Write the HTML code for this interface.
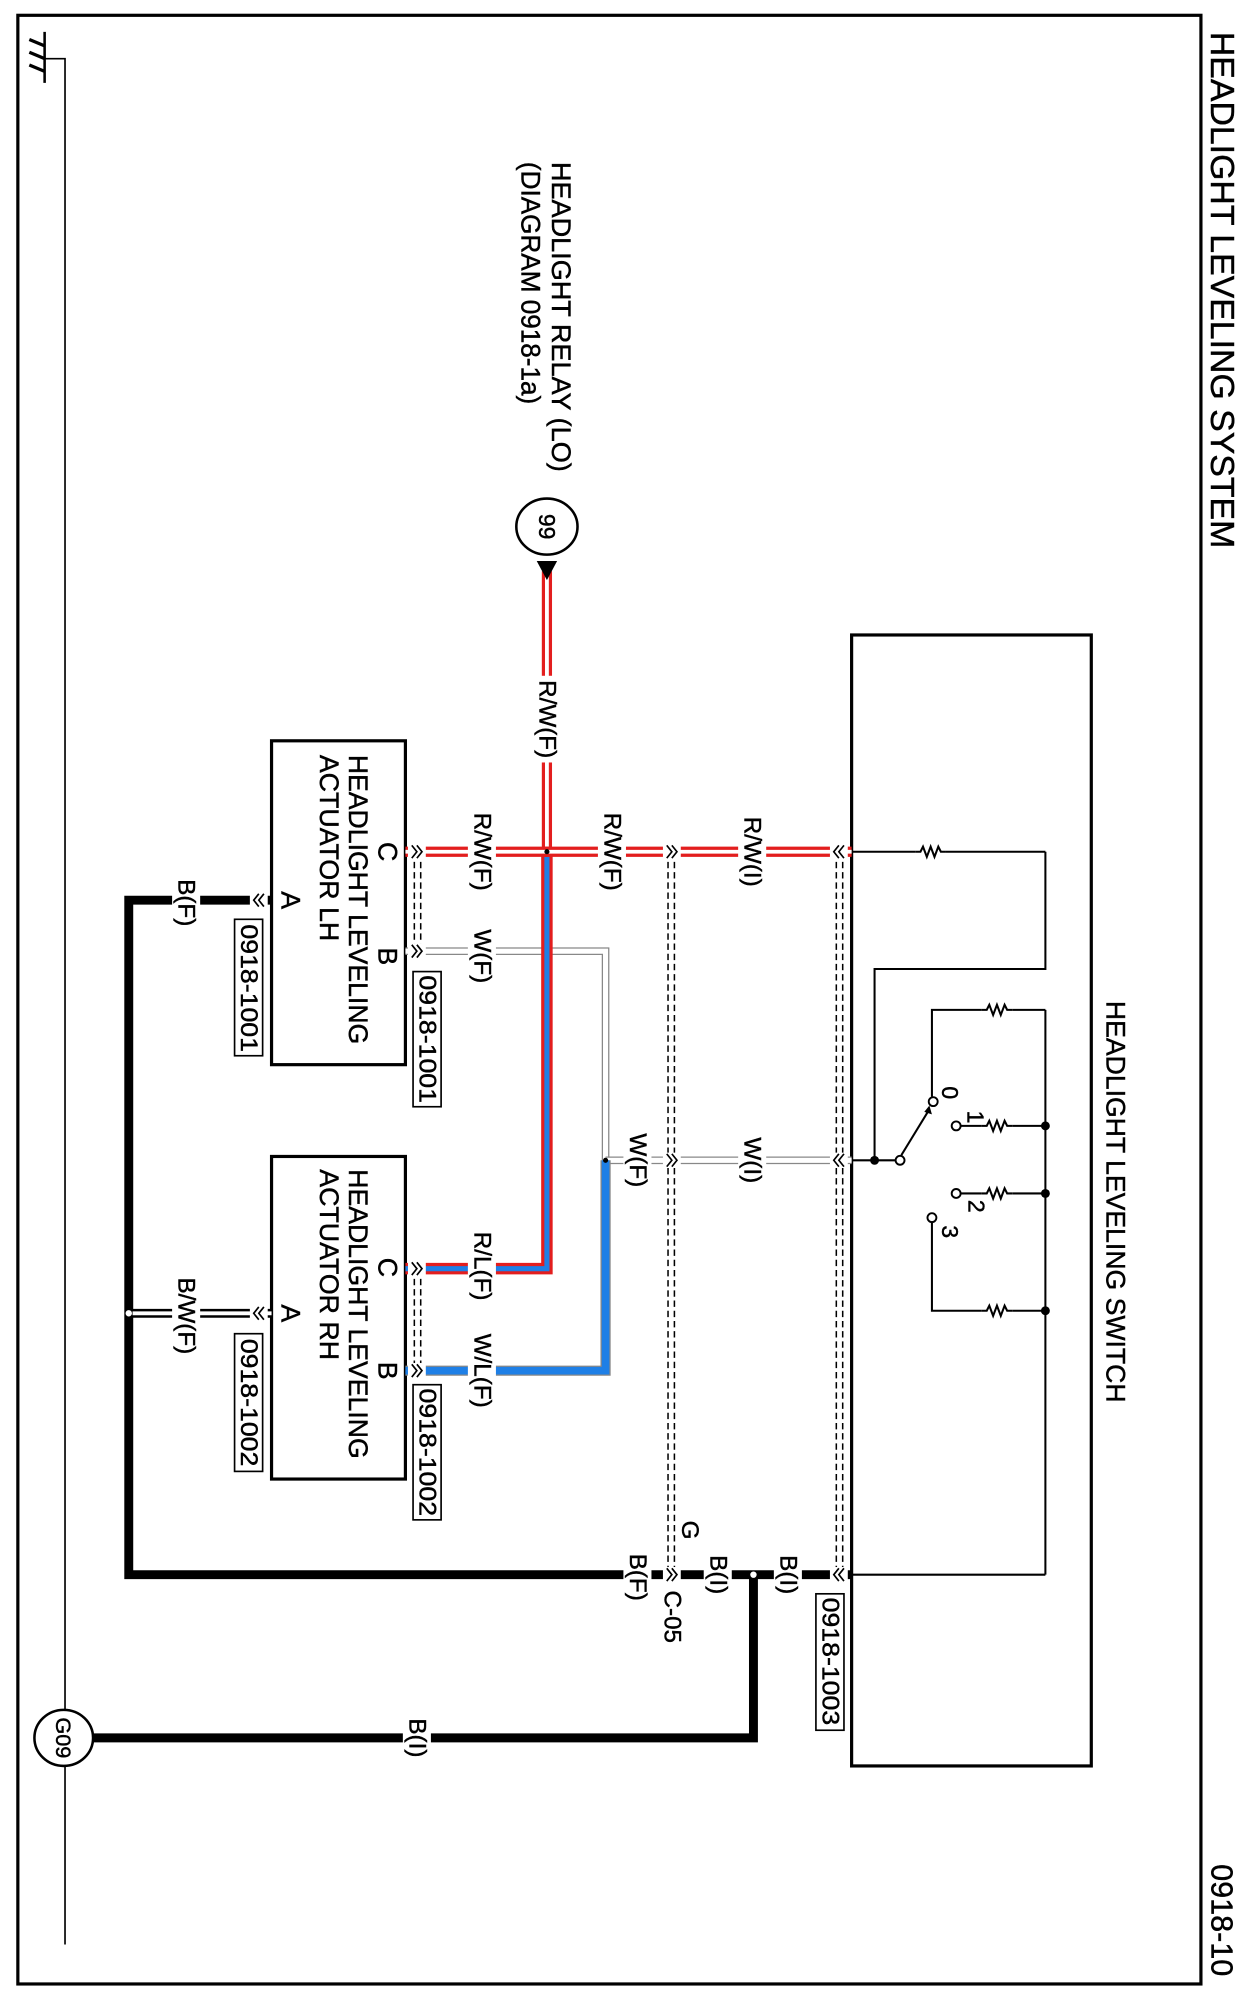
<!DOCTYPE html>
<html><head><meta charset="utf-8"><style>
html,body{margin:0;padding:0;background:#fff;}
svg{display:block;}
text{font-family:"Liberation Sans",sans-serif;fill:#000;stroke:#000;stroke-width:0.35;}
</style></head><body>
<svg width="1243" height="1998" viewBox="0 0 975 1567" preserveAspectRatio="none" xmlns="http://www.w3.org/2000/svg">
<defs>
<g id="rz"><polyline points="-12,0 -8,0 -6,-4 -3,4 0,-4 3,4 6,-4 8,0 12,0" fill="none" stroke="#000" stroke-width="1.6"/></g>
<g id="chR"><polyline points="-4,-5 0,0 -4,5" fill="none" stroke="#000" stroke-width="1.3"/><polyline points="0,-5 4,0 0,5" fill="none" stroke="#000" stroke-width="1.3"/></g>
<g id="chL"><polyline points="4,-5 0,0 4,5" fill="none" stroke="#000" stroke-width="1.3"/><polyline points="0,-5 -4,0 0,5" fill="none" stroke="#000" stroke-width="1.3"/></g>
</defs>
<rect x="14" y="12" width="928" height="1544" fill="none" stroke="#000" stroke-width="2.5"/>
<text transform="translate(958,25) rotate(90)" font-size="26" dominant-baseline="central" textLength="405" lengthAdjust="spacingAndGlyphs">HEADLIGHT LEVELING SYSTEM</text>
<text transform="translate(958,1550) rotate(90)" font-size="24" dominant-baseline="central" text-anchor="end">0918-10</text>

<polyline points="35,46 51,46 51,1525" fill="none" stroke="#000" stroke-width="1.3"/>
<line x1="35" y1="25" x2="35" y2="65" stroke="#000" stroke-width="2"/>
<line x1="23" y1="31" x2="35" y2="36" stroke="#000" stroke-width="2.5"/>
<line x1="23" y1="41" x2="35" y2="46" stroke="#000" stroke-width="2.5"/>
<line x1="23" y1="51" x2="35" y2="56" stroke="#000" stroke-width="2.5"/>

<rect x="668" y="498" width="188" height="887" fill="none" stroke="#000" stroke-width="2.5"/>
<text transform="translate(875,785) rotate(90)" font-size="21" dominant-baseline="central" textLength="315" lengthAdjust="spacingAndGlyphs">HEADLIGHT LEVELING SWITCH</text>
<g stroke="#000" stroke-width="1.6" fill="none">
<line x1="668" y1="668" x2="718" y2="668"/><line x1="742" y1="668" x2="820" y2="668"/>
<polyline points="820,668 820,760 686,760 686,910"/>
<line x1="668" y1="910" x2="702" y2="910"/>
<line x1="707" y1="906" x2="729" y2="870"/>
<polyline points="731,860 731,792 770,792"/><line x1="794" y1="792" x2="820" y2="792"/>
<line x1="753" y1="883" x2="770" y2="883"/><line x1="794" y1="883" x2="820" y2="883"/>
<line x1="753" y1="936" x2="770" y2="936"/><line x1="794" y1="936" x2="820" y2="936"/>
<polyline points="731,958 731,1028 770,1028"/><line x1="794" y1="1028" x2="820" y2="1028"/>
<line x1="820" y1="792" x2="820" y2="1235"/>
<line x1="668" y1="1235" x2="820" y2="1235"/>
</g>
<use href="#rz" x="730" y="668"/><use href="#rz" x="782" y="792"/><use href="#rz" x="782" y="883"/><use href="#rz" x="782" y="936"/><use href="#rz" x="782" y="1028"/>
<polygon points="729,867 731,874 725,872" fill="#000"/>
<g fill="#fff" stroke="#000" stroke-width="1.5">
<circle cx="706" cy="910" r="3.5"/><circle cx="732" cy="864" r="3.5"/><circle cx="750" cy="883" r="3.5"/><circle cx="750" cy="936" r="3.5"/><circle cx="731" cy="955" r="3.5"/>
</g>
<g fill="#000"><circle cx="686" cy="910" r="3.5"/><circle cx="820" cy="883" r="3.5"/><circle cx="820" cy="936" r="3.5"/><circle cx="820" cy="1028" r="3.5"/></g>
<g font-size="18">
<text transform="translate(745,857) rotate(90)" text-anchor="middle" dominant-baseline="central">0</text>
<text transform="translate(765,876) rotate(90)" text-anchor="middle" dominant-baseline="central">1</text>
<text transform="translate(766,946) rotate(90)" text-anchor="middle" dominant-baseline="central">2</text>
<text transform="translate(745,966) rotate(90)" text-anchor="middle" dominant-baseline="central">3</text>
</g>

<rect x="213" y="581" width="105" height="254" fill="none" stroke="#000" stroke-width="2.5"/>
<rect x="213" y="907" width="105" height="253" fill="none" stroke="#000" stroke-width="2.5"/>
<g font-size="21">
<text transform="translate(281,592) rotate(90)" dominant-baseline="central" textLength="227" lengthAdjust="spacingAndGlyphs">HEADLIGHT LEVELING</text>
<text transform="translate(258,592) rotate(90)" dominant-baseline="central">ACTUATOR LH</text>
<text transform="translate(281,917) rotate(90)" dominant-baseline="central" textLength="227" lengthAdjust="spacingAndGlyphs">HEADLIGHT LEVELING</text>
<text transform="translate(258,917) rotate(90)" dominant-baseline="central">ACTUATOR RH</text>
<text transform="translate(304,668) rotate(90)" text-anchor="middle" dominant-baseline="central">C</text>
<text transform="translate(304,750) rotate(90)" text-anchor="middle" dominant-baseline="central">B</text>
<text transform="translate(228,706) rotate(90)" text-anchor="middle" dominant-baseline="central">A</text>
<text transform="translate(304,994) rotate(90)" text-anchor="middle" dominant-baseline="central">C</text>
<text transform="translate(304,1075) rotate(90)" text-anchor="middle" dominant-baseline="central">B</text>
<text transform="translate(228,1030) rotate(90)" text-anchor="middle" dominant-baseline="central">A</text>
</g>

<g stroke="#000" stroke-width="1.2" stroke-dasharray="5,3" fill="none">
<line x1="325" y1="668" x2="325" y2="746"/><line x1="330" y1="668" x2="330" y2="746"/>
<line x1="325" y1="995" x2="325" y2="1075"/><line x1="330" y1="995" x2="330" y2="1075"/>
<line x1="524" y1="668" x2="524" y2="1235"/><line x1="529" y1="668" x2="529" y2="1235"/>
<line x1="656" y1="668" x2="656" y2="1235"/><line x1="661" y1="668" x2="661" y2="1235"/>
</g>

<g stroke="#000" stroke-width="7" fill="none">
<polyline points="213,706 101,706 101,1235 668,1235"/>
<polyline points="591,1235 591,1363 72,1363"/>
</g>
<line x1="101" y1="1030" x2="213" y2="1030" stroke="#000" stroke-width="7"/>
<line x1="104" y1="1030" x2="213" y2="1030" stroke="#fff" stroke-width="3"/>
<circle cx="101" cy="1030" r="2.5" fill="#fff"/>
<circle cx="591" cy="1235" r="2.5" fill="#fff"/>

<polyline points="318,746 475,746 475,910" fill="none" stroke="#888" stroke-width="6"/>
<polyline points="318,746 475,746 475,910" fill="none" stroke="#fff" stroke-width="4"/>
<line x1="475" y1="910" x2="668" y2="910" stroke="#888" stroke-width="6"/>
<line x1="475" y1="910" x2="668" y2="910" stroke="#fff" stroke-width="4"/>
<polyline points="475,910 475,1075 318,1075" fill="none" stroke="#888" stroke-width="8"/>
<polyline points="475,910 475,1075 318,1075" fill="none" stroke="#1e7fe6" stroke-width="6"/>
<circle cx="475" cy="910" r="2" fill="#000"/>

<polyline points="429,668 429,995 318,995" fill="none" stroke="#e31e1e" stroke-width="9"/>
<polyline points="429,672 429,995 318,995" fill="none" stroke="#1e7fe6" stroke-width="4"/>
<line x1="429" y1="448" x2="429" y2="668" stroke="#e31e1e" stroke-width="8"/>
<line x1="429" y1="448" x2="429" y2="664" stroke="#fff" stroke-width="3"/>
<line x1="318" y1="668" x2="668" y2="668" stroke="#e31e1e" stroke-width="8"/>
<line x1="318" y1="668" x2="668" y2="668" stroke="#fff" stroke-width="3"/>
<circle cx="429" cy="668" r="2" fill="#000"/>

<polygon points="421,440 437,440 429,455" fill="#000"/>
<ellipse cx="429" cy="413" rx="24" ry="22" fill="#fff" stroke="#000" stroke-width="2"/>
<text transform="translate(429,413) rotate(90)" font-size="18" text-anchor="middle" dominant-baseline="central">99</text>
<text transform="translate(440,127) rotate(90)" font-size="21" dominant-baseline="central" textLength="243" lengthAdjust="spacingAndGlyphs">HEADLIGHT RELAY (LO)</text>
<text transform="translate(416,127) rotate(90)" font-size="21" dominant-baseline="central" textLength="190" lengthAdjust="spacingAndGlyphs">(DIAGRAM 0918-1a)</text>

<ellipse cx="50" cy="1363" rx="23" ry="22" fill="#fff" stroke="#000" stroke-width="2"/>
<text transform="translate(50,1363) rotate(90)" font-size="17" text-anchor="middle" dominant-baseline="central">G09</text>

<g fill="#fff">
<rect x="320" y="662" width="14" height="12"/><rect x="320" y="740" width="14" height="12"/>
<rect x="320" y="989" width="14" height="12"/><rect x="320" y="1069" width="14" height="12"/>
<rect x="520" y="662" width="14" height="12"/><rect x="520" y="904" width="14" height="12"/>
<rect x="651" y="662" width="14" height="12"/><rect x="651" y="904" width="14" height="12"/>
<rect x="196" y="700" width="14" height="12"/><rect x="196" y="1024" width="14" height="12"/>
<rect x="520" y="1229" width="14" height="12"/><rect x="651" y="1229" width="14" height="12"/>
</g>
<use href="#chR" x="327" y="668"/><use href="#chR" x="327" y="746"/><use href="#chR" x="327" y="995"/><use href="#chR" x="327" y="1075"/>
<use href="#chR" x="527" y="668"/><use href="#chR" x="527" y="910"/><use href="#chR" x="527" y="1235"/>
<use href="#chL" x="658" y="668"/><use href="#chL" x="658" y="910"/><use href="#chL" x="658" y="1235"/>
<use href="#chL" x="203" y="706"/><use href="#chL" x="203" y="1030"/>

<g fill="#fff" stroke="#000" stroke-width="1.3">
<rect x="324" y="762" width="22" height="106"/><rect x="184" y="721" width="22" height="107"/>
<rect x="324" y="1086" width="22" height="106"/><rect x="184" y="1046" width="22" height="108"/>
<rect x="640" y="1250" width="22" height="107"/>
</g>
<g font-size="19">
<text transform="translate(335,815) rotate(90)" text-anchor="middle" dominant-baseline="central" textLength="100" lengthAdjust="spacingAndGlyphs">0918-1001</text>
<text transform="translate(195,775) rotate(90)" text-anchor="middle" dominant-baseline="central" textLength="100" lengthAdjust="spacingAndGlyphs">0918-1001</text>
<text transform="translate(335,1139) rotate(90)" text-anchor="middle" dominant-baseline="central" textLength="100" lengthAdjust="spacingAndGlyphs">0918-1002</text>
<text transform="translate(195,1100) rotate(90)" text-anchor="middle" dominant-baseline="central" textLength="100" lengthAdjust="spacingAndGlyphs">0918-1002</text>
<text transform="translate(651,1303) rotate(90)" text-anchor="middle" dominant-baseline="central" textLength="100" lengthAdjust="spacingAndGlyphs">0918-1003</text>
</g>

<g fill="#fff">
<rect x="418" y="530" width="22" height="68"/>
<rect x="367" y="634" width="22" height="68"/><rect x="469" y="634" width="22" height="68"/><rect x="579" y="634" width="22" height="68"/>
<rect x="367" y="725" width="22" height="50"/>
<rect x="489" y="885" width="22" height="50"/><rect x="579" y="887" width="22" height="46"/>
<rect x="367" y="961" width="22" height="64"/><rect x="367" y="1042" width="22" height="66"/>
<rect x="135" y="684" width="22" height="48"/><rect x="135" y="998" width="22" height="68"/>
<rect x="489" y="1213" width="22" height="48"/><rect x="552" y="1213" width="22" height="44"/><rect x="607" y="1213" width="22" height="44"/>
<rect x="316" y="1341" width="22" height="44"/>
</g>
<g font-size="19">
<text transform="translate(429,564) rotate(90)" text-anchor="middle" dominant-baseline="central">R/W(F)</text>
<text transform="translate(378,668) rotate(90)" text-anchor="middle" dominant-baseline="central">R/W(F)</text>
<text transform="translate(480,668) rotate(90)" text-anchor="middle" dominant-baseline="central">R/W(F)</text>
<text transform="translate(590,668) rotate(90)" text-anchor="middle" dominant-baseline="central">R/W(I)</text>
<text transform="translate(378,750) rotate(90)" text-anchor="middle" dominant-baseline="central">W(F)</text>
<text transform="translate(500,910) rotate(90)" text-anchor="middle" dominant-baseline="central">W(F)</text>
<text transform="translate(590,910) rotate(90)" text-anchor="middle" dominant-baseline="central">W(I)</text>
<text transform="translate(378,993) rotate(90)" text-anchor="middle" dominant-baseline="central">R/L(F)</text>
<text transform="translate(378,1075) rotate(90)" text-anchor="middle" dominant-baseline="central">W/L(F)</text>
<text transform="translate(146,708) rotate(90)" text-anchor="middle" dominant-baseline="central">B(F)</text>
<text transform="translate(146,1032) rotate(90)" text-anchor="middle" dominant-baseline="central">B/W(F)</text>
<text transform="translate(500,1237) rotate(90)" text-anchor="middle" dominant-baseline="central">B(F)</text>
<text transform="translate(563,1235) rotate(90)" text-anchor="middle" dominant-baseline="central">B(I)</text>
<text transform="translate(618,1235) rotate(90)" text-anchor="middle" dominant-baseline="central">B(I)</text>
<text transform="translate(327,1363) rotate(90)" text-anchor="middle" dominant-baseline="central">B(I)</text>
<text transform="translate(527,1268) rotate(90)" text-anchor="middle" dominant-baseline="central">C-05</text>
<text transform="translate(541,1200) rotate(90)" text-anchor="middle" dominant-baseline="central">G</text>
</g>
</svg>
</body></html>
